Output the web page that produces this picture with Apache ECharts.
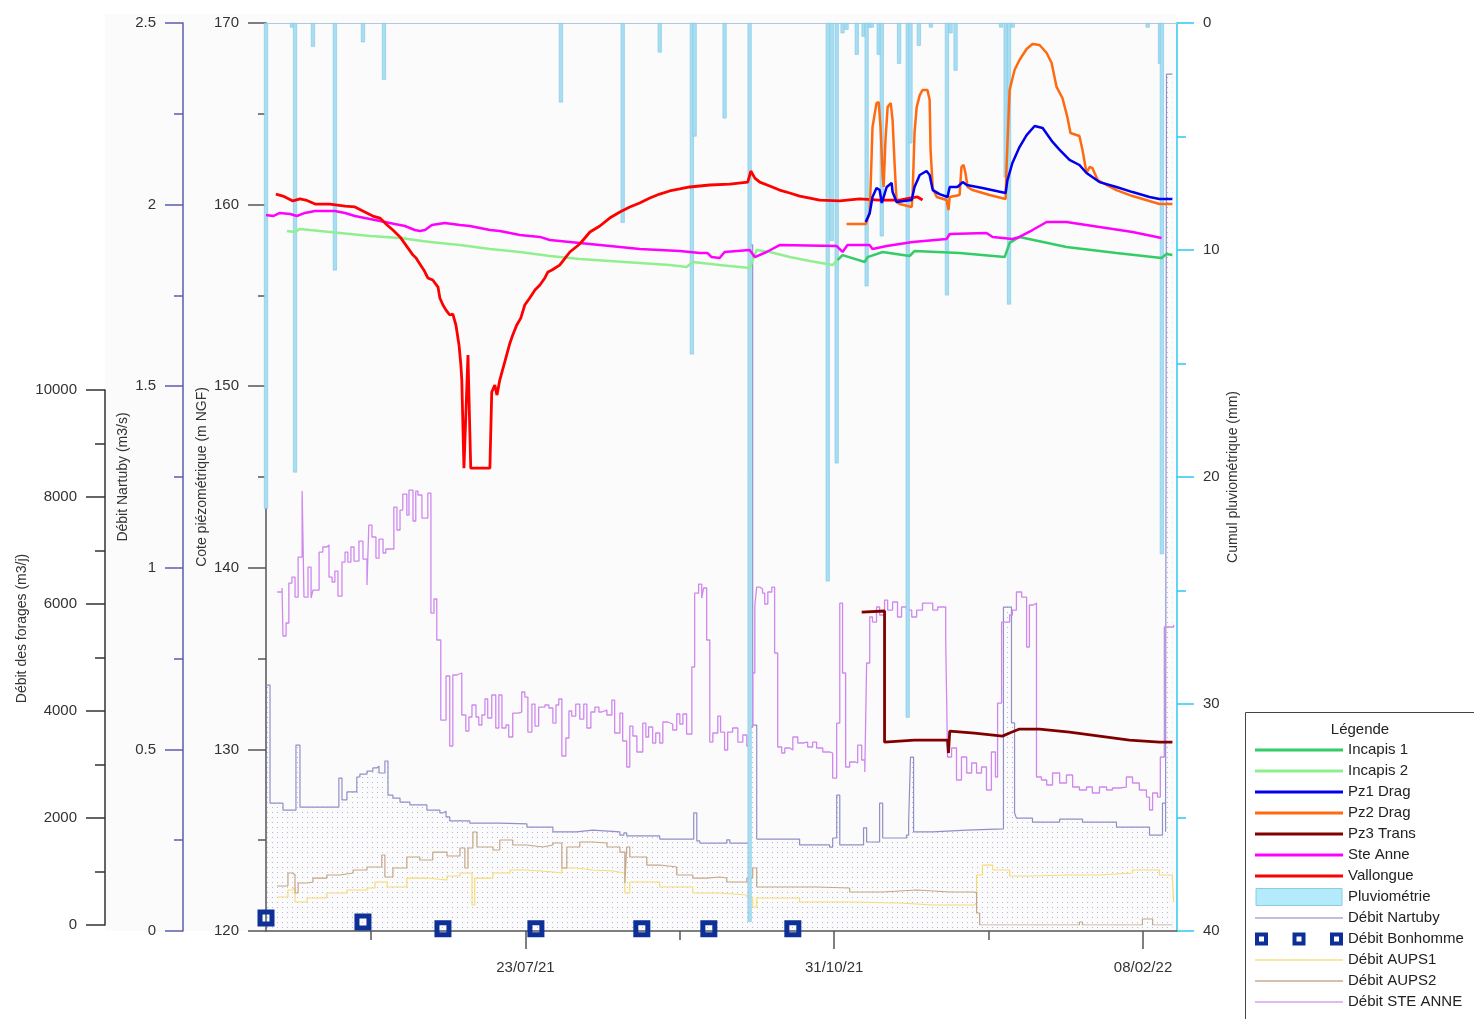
<!DOCTYPE html>
<html>
<head>
<meta charset="utf-8">
<title>Suivi piézométrique</title>
<script src="https://cdn.jsdelivr.net/npm/echarts/dist/echarts.min.js"></script>
<style>
  html, body { margin: 0; padding: 0; background: #fff; }
  #chart { width: 1474px; height: 1019px; }
</style>
</head>
<body>
<div id="chart"></div>
<script>
// x values are days counted from 30/04/21
const startDate = Date.UTC(2021, 3, 30);
const dayMax = 295;
const xLabelDays = [84, 184, 284];          // 23/07/21, 31/10/21, 08/02/22
const xMinorDays = [34, 134, 234];

// Cumul pluviométrique (mm), bars hanging from the top
const pluvio = [
  [0, 21.4], [8.4, 0.2], [9.4, 19.8], [15.2, 1.05], [22.3, 10.9], [31.4, 0.85], [38.2, 2.5],
  [95.5, 3.5], [115.5, 8.8], [127.5, 1.3], [137.9, 14.6], [138.8, 5.0], [148.5, 4.2],
  [156.6, 39.6], [181.9, 24.6], [183.2, 9.6], [184.8, 19.4], [186.7, 0.45], [188, 0.3],
  [191.3, 1.4], [193.5, 0.6], [194.5, 11.6], [195.5, 0.2], [196.2, 0.2], [198.4, 1.4],
  [199.4, 9.4], [205, 1.8], [207.8, 30.6], [208.7, 5.3], [211.4, 1.0], [215.3, 0.2],
  [220.5, 12.0], [221.7, 0.45], [223.3, 2.1], [238.0, 0.2], [239.5, 6.8], [240.6, 12.4],
  [241.8, 0.2], [285.5, 0.2], [289.5, 1.8], [290.1, 23.4]
];

// Cote piézométrique (m NGF)
const vallongue = [
  [3.2, 160.58], [5.5, 160.47], [8.7, 160.2], [11, 160.31], [12.9, 160.25], [15.9, 160.03],
  [20.7, 160.03], [25.6, 159.92], [28.8, 159.87], [32, 159.59], [34.6, 159.37], [36.9, 159.26],
  [39.2, 158.88], [41.1, 158.6], [43.4, 158.22], [47.6, 157.22], [48.6, 157.06], [49.2, 156.89],
  [51.1, 156.4], [52.4, 155.96], [54, 155.85], [55.7, 155.46], [56.3, 154.86], [57.3, 154.47],
  [58.3, 154.19], [59.5, 153.92], [60.5, 153.97], [61.5, 153.37], [62.5, 152.27], [63.1, 151.17],
  [63.4, 150.34], [64.1, 145.49], [65.4, 151.72], [66.3, 145.49], [72.5, 145.49], [73.1, 149.68],
  [74.1, 150.06], [74.8, 149.51], [75.7, 150.34], [77.3, 151.33], [79, 152.38], [79.9, 152.82],
  [81.2, 153.37], [82.5, 153.75], [83.8, 154.47], [85.4, 154.86], [87.1, 155.3], [88.7, 155.57],
  [90.3, 155.96], [91.3, 156.29], [92.6, 156.4], [95.1, 156.67], [97.1, 157.11], [98.4, 157.39],
  [101.6, 157.83], [104.9, 158.49], [108.1, 158.82], [111.3, 159.26], [114.6, 159.59],
  [117.8, 159.87], [121, 160.09], [124.3, 160.36], [127.5, 160.58], [130.7, 160.75], [134, 160.86],
  [137.2, 160.97], [143.7, 161.08], [150.2, 161.13], [156, 161.24], [157, 161.85], [158.3, 161.46],
  [159.9, 161.24], [163.1, 161.02], [166.3, 160.8], [169.6, 160.64], [172.8, 160.47], [176.1, 160.36],
  [179.3, 160.25], [185.8, 160.2], [192.2, 160.31], [198.7, 160.25], [205.2, 160.25], [208.4, 160.36],
  [211, 160.42], [212.6, 160.25]
];
const steAnne = [
  [0, 159.43], [2.3, 159.37], [4.5, 159.54], [7.8, 159.48], [10, 159.37], [12.6, 159.54],
  [15.9, 159.65], [22.3, 159.65], [25.6, 159.54], [28.8, 159.37], [32, 159.26], [35.3, 159.15],
  [38.5, 159.04], [41.7, 158.93], [45, 158.82], [48.2, 158.6], [49.8, 158.55], [51.5, 158.6],
  [53.7, 158.88], [57.9, 158.99], [62.8, 158.88], [66, 158.82], [69.3, 158.71], [72.5, 158.6],
  [75.7, 158.55], [79, 158.44], [82.2, 158.33], [85.4, 158.27], [88.7, 158.22], [91.9, 158.05],
  [95.1, 158], [101.6, 157.88], [108.1, 157.77], [114.6, 157.66], [121, 157.55], [127.5, 157.5],
  [134, 157.44], [140.5, 157.33], [143, 157.33], [144.3, 157.11], [146.9, 157.06], [148.5, 157.39],
  [156.6, 157.5], [158.3, 157.11], [162.1, 157.39], [166.3, 157.77], [184.8, 157.72], [186.7, 157.39],
  [188.3, 157.77], [195.5, 157.77], [196.4, 157.55], [201, 157.72], [209.4, 157.94], [220.4, 158.11],
  [221.4, 158.38], [233.3, 158.44], [235.3, 158.22], [241.7, 158.11], [244, 158.22], [248.2, 158.6],
  [252.8, 159.04], [259.2, 159.04], [269.9, 158.77], [280.6, 158.49], [290, 158.16]
];
const incapis2 = [
  [6.8, 158.55], [9.4, 158.49], [11, 158.66], [14.2, 158.6], [20.7, 158.49], [27.2, 158.38],
  [33.7, 158.27], [43.4, 158.16], [53.1, 157.94], [62.8, 157.77], [72.5, 157.55], [82.2, 157.39],
  [91.9, 157.17], [101.6, 157], [111.3, 156.89], [121, 156.78], [130.7, 156.67], [136.2, 156.56],
  [138.2, 156.84], [146.9, 156.67], [156.6, 156.51], [158.9, 157.5], [163.1, 157.39],
  [169.6, 157.11], [176.1, 156.89], [183.5, 156.67], [185.1, 156.95]
];
const incapis1 = [
  [185.1, 156.95], [186.7, 157.22], [193.9, 156.84], [194.8, 157.11], [199.7, 157.39],
  [208.4, 157.17], [210, 157.44], [224.6, 157.33], [239.2, 157.11], [240.8, 157.89], [244, 158.22],
  [259.2, 157.66], [275.4, 157.33], [290, 157.06], [291.6, 157.28], [293.5, 157.22]
];
const pz1Drag = [
  [194.2, 159.04], [195.5, 159.54], [196.4, 160.42], [197.7, 160.91], [198.7, 160.8], [199.4, 160.09],
  [199.7, 160.25], [201, 160.97], [202.6, 161.19], [202.9, 160.69], [204.2, 160.14], [209.1, 160.25],
  [210, 160.97], [211.7, 161.63], [213.9, 161.85], [214.9, 161.63], [215.9, 160.8], [218.1, 160.58],
  [220.7, 160.42], [221.4, 160.97], [223.9, 160.97], [225.6, 161.24], [226.9, 161.08], [232, 160.91],
  [239.5, 160.64], [240.1, 161.35], [241.7, 162.29], [244, 163.17], [246.3, 163.83], [248.9, 164.33],
  [251.5, 164.22], [254.7, 163.45], [257, 163.01], [260.2, 162.46], [263.4, 162.18], [265.7, 161.74],
  [269.9, 161.24], [275.4, 160.97], [280.6, 160.69], [286.1, 160.42], [289.3, 160.31], [293.5, 160.31]
];
const pz2Drag = [
  [188, 158.93], [194.2, 158.93], [195.5, 159.54], [196.1, 162.62], [196.4, 164.27], [197.7, 165.59],
  [198.4, 165.65], [199, 164.27], [199.7, 161.52], [200, 160.97], [200.6, 163.56], [201.3, 165.37],
  [202.3, 165.59], [202.9, 164.66], [203.6, 162.07], [204.2, 160.14], [205.2, 160.03], [209.1, 159.87],
  [209.4, 160.64], [210, 163.94], [210.7, 165.37], [211.7, 166.03], [212.6, 166.31], [214.2, 166.31],
  [214.9, 165.76], [215.2, 163.01], [215.9, 160.91], [217.2, 160.42], [220.4, 160.25], [221, 159.7],
  [221.4, 160.42], [224.6, 160.53], [225.2, 162.07], [225.9, 162.18], [226.5, 161.74], [227.2, 160.97],
  [228.8, 160.8], [234.3, 160.53], [239.5, 160.31], [239.8, 162.07], [240.8, 166.31], [242.4, 167.41],
  [244, 167.96], [246.3, 168.57], [248.2, 168.84], [250.5, 168.79], [252.8, 168.35], [254.4, 167.8],
  [256, 166.48], [257.9, 165.87], [259.5, 164.82], [260.5, 163.94], [263.4, 163.78], [264.4, 163.01],
  [265.7, 161.74], [266.7, 162.07], [267.6, 162.01], [269.3, 161.35], [275.4, 160.8], [280.6, 160.47],
  [289.3, 160.03], [293.5, 160.03]
];
const pz3Trans = [
  [192.9, 137.56], [200.3, 137.62], [200.3, 130.4], [210, 130.51], [220.7, 130.51], [221, 129.8],
  [221.4, 131.01], [229.4, 130.9], [238.5, 130.73], [240.8, 130.9], [244, 131.12], [250.5, 131.12],
  [260.2, 130.95], [269.9, 130.73], [279.6, 130.51], [289.3, 130.4], [293.5, 130.4]
];

// Débit Nartuby (m3/s)
const nartuby = [
  [0, 0.677], [1.3, 0.352], [5.5, 0.333], [9.7, 0.512], [11, 0.341], [23.6, 0.421], [24.6, 0.361],
  [26.2, 0.383], [29.4, 0.424], [30.4, 0.432], [32.7, 0.44], [34.6, 0.449], [35.9, 0.454],
  [36.6, 0.435], [38.5, 0.468], [39.5, 0.374], [41.1, 0.366], [43.4, 0.355], [46.6, 0.347],
  [52.1, 0.333], [56.3, 0.325], [57.3, 0.33], [58.3, 0.314], [59.5, 0.303], [66, 0.297],
  [75.7, 0.295], [84.5, 0.286], [92.9, 0.273], [100.6, 0.278], [105.8, 0.273], [114.6, 0.264],
  [115.9, 0.27], [116.8, 0.262], [127.5, 0.253], [138.5, 0.325], [139.5, 0.248], [140.5, 0.242],
  [149.2, 0.251], [150.2, 0.242], [156.3, 1.889], [157.6, 0.567], [158.9, 0.253], [167.3, 0.253],
  [172.8, 0.237], [182.5, 0.231], [183.5, 0.256], [184.8, 0.374], [185.8, 0.237], [193.5, 0.284],
  [194.5, 0.245], [198.7, 0.352], [199.7, 0.256], [207.4, 0.264], [208.1, 0.3], [208.7, 0.479],
  [209.7, 0.273], [215.9, 0.278], [226.9, 0.281], [238.8, 0.892], [241.4, 0.573], [242.4, 0.325],
  [243, 0.311], [248.2, 0.3], [257, 0.308], [264.4, 0.3], [275.4, 0.286], [286.1, 0.264],
  [290.3, 0.352], [291.3, 0.273], [291.6, 2.359], [293.5, 2.359]
];
const bonhomme = [
  [0, 0.036], [31.4, 0.025], [57.3, 0.006], [87.4, 0.006], [121.7, 0.006], [143.4, 0.006], [170.6, 0.006]
];

// Débit des forages (m3/j)
const aups1 = [
  [3.6, 523], [7.1, 654], [8.7, 692], [9.4, 430], [13.3, 505], [19.7, 598], [26.2, 654], [32.7, 692],
  [35.3, 804], [39.2, 710], [45.6, 878], [52.1, 841], [58.6, 916], [62.8, 972], [66.7, 374],
  [67.6, 878], [73.5, 972], [79, 1028], [84.5, 991], [92.9, 972], [95.8, 1065], [100.6, 1028],
  [105.8, 1009], [112.3, 972], [116.2, 598], [117.8, 804], [127.5, 710], [138.2, 598], [146.9, 561],
  [155.7, 523], [157.6, 336], [158.9, 505], [172.8, 430], [189, 411], [205.2, 374], [215.9, 374],
  [229.4, 411], [230.1, 935], [232, 1121], [235.3, 1028], [240.8, 916], [248.2, 935], [259.2, 935],
  [269.9, 972], [280.6, 1028], [289.3, 935], [293.5, 897], [293.9, 430]
];
const aups2 = [
  [3.6, 729], [7.1, 972], [8.7, 935], [9.4, 598], [10.4, 785], [13.3, 804], [15.2, 878], [19.7, 935],
  [23.9, 972], [28.2, 1028], [32.7, 1084], [37.5, 1308], [38.5, 897], [41.1, 1065], [45.6, 1271],
  [49.8, 1215], [54, 1364], [58.6, 1290], [62.8, 1439], [64.4, 1065], [65.4, 1439], [67, 1738],
  [68.3, 1458], [73.5, 1402], [75.7, 1589], [79.9, 1495], [84.5, 1458], [89.6, 1495], [92.9, 1533],
  [95.8, 1065], [97.4, 1458], [101.6, 1551], [105.8, 1533], [110.4, 1458], [114.6, 1364],
  [116.2, 785], [116.8, 1458], [117.8, 1271], [123.3, 1121], [127.5, 1084], [133, 935], [138.2, 878],
  [142.7, 897], [146.9, 878], [149.2, 804], [155.7, 878], [157.6, 1065], [158.9, 710], [167.3, 710],
  [178.3, 692], [189, 617], [199.7, 654], [210.7, 617], [221.4, 617], [229.4, 598], [230.1, 224],
  [231.1, 0], [263.4, 56], [264.4, 0], [283.8, 112], [287.1, 0], [293.5, 0]
];
const debitSteAnne = [
  [3.6, 6224], [5.2, 6299], [5.5, 5402], [6.5, 5645], [7.4, 6392], [8.4, 6504], [9.4, 6130],
  [10.4, 6878], [11.7, 8111], [12.3, 6130], [13.6, 6691], [14.6, 6112], [15.2, 6261], [17.2, 6971],
  [18.4, 7065], [19.7, 7102], [20.4, 6504], [21.4, 6411], [22.3, 6616], [23.3, 6149], [24.6, 6784],
  [25.6, 6971], [26.5, 6784], [27.5, 7065], [28.5, 6803], [30.1, 7177], [31.4, 6840], [32.7, 6355],
  [33.3, 7476], [34.3, 7252], [35.6, 6859], [36.6, 7214], [37.9, 6953], [38.8, 7028], [41.4, 7812],
  [42.4, 7383], [43.4, 7756], [44.3, 8055], [45.6, 7663], [46.3, 8130], [47.6, 7551], [48.5, 8111],
  [49.2, 8037], [50.5, 7607], [52.4, 8074], [53.4, 5831], [54.4, 6093], [55.3, 5327], [56.6, 3831],
  [58.3, 4654], [59.5, 3346], [60.5, 4673], [61.8, 4710], [63.4, 3925], [64.7, 3626], [65.7, 3888],
  [66.7, 4112], [68, 3888], [68.9, 3738], [69.9, 3925], [70.9, 4224], [71.8, 3869], [73.1, 4299],
  [74.4, 3682], [75.4, 4299], [76.4, 3682], [77.7, 3738], [78.6, 3514], [79.9, 3962], [81.6, 3981],
  [82.8, 4355], [83.8, 4261], [84.8, 3607], [86.1, 4130], [87.1, 3719], [88.3, 4074], [90.3, 4112],
  [91.6, 4056], [92.9, 3775], [93.9, 4112], [94.8, 4224], [95.8, 3159], [97.1, 3495], [98.1, 4000],
  [99, 3906], [100.3, 4130], [101.6, 3850], [102.9, 4130], [103.9, 3682], [105.2, 3981], [106.5, 4074],
  [107.8, 3981], [108.7, 4018], [110.4, 3925], [112, 4205], [112.9, 3589], [114.6, 3962], [115.5, 3439],
  [116.8, 2953], [117.8, 3719], [118.8, 3533], [120.1, 3234], [122, 3775], [123, 3514], [123.9, 3701],
  [125.2, 3402], [126.2, 3589], [127.5, 3402], [128.5, 3794], [130.1, 3757], [131.7, 3645], [133, 3944],
  [134, 3757], [135, 3944], [136.2, 3570], [137.9, 4822], [138.8, 6205], [140.1, 6373], [141.1, 6112],
  [141.7, 6299], [142.7, 5327], [143.7, 3420], [144.7, 3589], [146.3, 3906], [147.2, 3607], [148.5, 3271],
  [149.5, 3607], [151.1, 3682], [152.8, 3420], [154.4, 3551], [155.7, 3346], [156.6, 3701], [157.6, 4710],
  [158.3, 5981], [158.9, 6317], [159.9, 6280], [160.8, 6205], [161.5, 6000], [162.5, 6224], [163.8, 6317],
  [164.7, 5084], [165.7, 3327], [167, 3215], [168, 3308], [169.6, 3271], [170.6, 3514], [172.2, 3402],
  [173.8, 3420], [175.4, 3327], [177, 3420], [178.3, 3308], [180.3, 3234], [182.5, 3215], [183.5, 2747],
  [184.8, 3775], [185.8, 6018], [186.7, 4710], [187.7, 2953], [189, 3047], [190.9, 3028], [191.6, 3364],
  [192.9, 3084], [193.9, 2860], [194.5, 4897], [195.5, 5757], [196.4, 5663], [197.7, 5944], [198.7, 5794],
  [200.3, 6074], [201.3, 5887], [202.9, 6037], [204.5, 5757], [205.8, 5944], [207.4, 5887], [209.1, 5757],
  [210.7, 5887], [212.6, 6018], [214.2, 6018], [215.9, 5887], [217.5, 5944], [219.1, 5944], [220.1, 5327],
  [220.7, 3140], [222, 3308], [223.6, 2710], [225.2, 3140], [226.9, 2841], [228.5, 3028], [230.1, 2841],
  [231.7, 2953], [233.3, 2523], [234.9, 3234], [236.2, 2766], [236.9, 4149], [238.2, 5663], [240.8, 5794],
  [241.7, 5887], [243, 6224], [244.7, 6130], [246.3, 5196], [247.2, 5981], [248.5, 6018], [249.5, 2766],
  [251.1, 2710], [252.8, 2617], [254.7, 2841], [257, 2654], [259.2, 2804], [261.2, 2579], [263.4, 2523],
  [265.7, 2579], [267.6, 2467], [269.9, 2579], [272.2, 2523], [274.1, 2561], [276.4, 2579], [278.6, 2766],
  [280.6, 2654], [282.8, 2523], [285.1, 2392], [286.1, 2150], [287.1, 2467], [288.7, 2392], [289.6, 3140],
  [290.9, 5570], [293.9, 5607]
];

function dateLabel(d) {
  const dt = new Date(startDate + Math.round(d) * 86400000);
  const p = n => String(n).padStart(2, '0');
  return p(dt.getUTCDate()) + '/' + p(dt.getUTCMonth() + 1) + '/' + String(dt.getUTCFullYear()).slice(2);
}

// dotted fill for the Nartuby area
const dots = document.createElement('canvas');
dots.width = 5; dots.height = 5;
const dctx = dots.getContext('2d');
dctx.fillStyle = 'rgba(120,120,200,0.55)';
dctx.fillRect(2, 2, 1, 1);

const font = 'Liberation Sans, Arial, sans-serif';
const txt = '#333';

const chart = echarts.init(document.getElementById('chart'));

function yAxisBase(color, tickLen, minorLen, margin) {
  return {
    axisLine: { show: true, onZero: false, lineStyle: { color: color, width: 1.5 } },
    axisTick: { show: true, inside: false, length: tickLen, lineStyle: { color: color, width: 1.5 } },
    minorTick: { show: true, splitNumber: 2, length: minorLen, lineStyle: { color: color, width: 1.5 } },
    splitLine: { show: false },
    axisLabel: { fontSize: 15, color: txt, fontFamily: font, margin: margin, formatter: v => String(v) },
    nameLocation: 'middle',
    nameRotate: 90,
    nameMoveOverlap: false,
    nameTextStyle: { fontSize: 14, color: txt, fontFamily: font }
  };
}

const lineIcon = 'path://M0,0H88V3H0Z';
const thinIcon = 'path://M0,0H88V1.4H0Z';

chart.setOption({
  animation: false,
  textStyle: { fontFamily: font },
  graphic: [
    { type: 'rect', z: -10, shape: { x: 105, y: 14, width: 1072, height: 917 }, style: { fill: '#fbfbfb' } },
    { type: 'rect', z: 10, shape: { x: 1245.5, y: 712.5, width: 240, height: 320 }, style: { fill: '#fff', stroke: '#444', lineWidth: 1 } },
    { type: 'text', z: 11, x: 1360, y: 730, style: { text: 'Légende', fontSize: 15, fill: '#222', fontFamily: font, align: 'center', verticalAlign: 'middle' } }
  ],
  grid: [
    { left: 266, right: 297, top: 23, bottom: 88 },
    { left: 266, right: 297, top: 390, bottom: 94 }
  ],
  xAxis: [
    {
      type: 'value', gridIndex: 0, min: 0, max: dayMax, position: 'bottom',
      axisLine: { onZero: false, lineStyle: { color: '#555', width: 1.5 } },
      axisTick: { customValues: xLabelDays, length: 18, lineStyle: { color: '#555', width: 1.5 } },
      axisLabel: { customValues: xLabelDays, formatter: v => dateLabel(v), fontSize: 15, color: txt, margin: 29 },
      splitLine: { show: false }
    },
    {
      type: 'value', gridIndex: 0, min: 0, max: dayMax, position: 'top',
      axisLine: { onZero: false, lineStyle: { color: '#b4c8dc', width: 1 } },
      axisTick: { show: false }, axisLabel: { show: false }, splitLine: { show: false }
    },
    {
      // shorter ticks every 50 days, drawn on the lower grid's axis pushed down to the same line
      type: 'value', gridIndex: 1, min: 0, max: dayMax, position: 'bottom', offset: 6,
      axisLine: { show: false, onZero: false },
      axisTick: { customValues: xMinorDays, length: 9, lineStyle: { color: '#555', width: 1.5 } },
      axisLabel: { show: false }, splitLine: { show: false }
    }
  ],
  yAxis: [
    Object.assign(yAxisBase('#555', 18, 8, 27), {
      type: 'value', gridIndex: 0, position: 'left', offset: 0, min: 120, max: 170, interval: 10,
      name: 'Cote piézométrique (m NGF)', nameGap: 57
    }),
    Object.assign(yAxisBase('#5c5cae', 18, 9, 27), {
      type: 'value', gridIndex: 0, position: 'left', offset: 83, min: 0, max: 2.5, interval: 0.5,
      name: 'Débit Nartuby (m3/s)', nameGap: 53
    }),
    Object.assign(yAxisBase('#2ec8f2', 17, 9, 26), {
      type: 'value', gridIndex: 0, position: 'right', offset: 0, min: 0, max: 40, interval: 10, inverse: true,
      name: 'Cumul pluviométrique (mm)', nameGap: 49
    }),
    Object.assign(yAxisBase('#333', 19, 10, 28), {
      type: 'value', gridIndex: 1, position: 'left', offset: 161, min: 0, max: 10000, interval: 2000,
      name: 'Débit des forages (m3/j)', nameGap: 76,
      nameTextStyle: { fontSize: 14, color: txt, fontFamily: font, padding: [0, 0, 0, 58] }
    })
  ],
  legend: {
    orient: 'vertical', left: 1255, top: 739.5, padding: 0, itemWidth: 88, itemHeight: 17, itemGap: 0,
    selectedMode: false, z: 12,
    textStyle: { fontSize: 15, color: '#222', fontFamily: font, lineHeight: 21 },
    data: [
      { name: 'Incapis 1', icon: lineIcon, itemStyle: { color: '#33cc66' } },
      { name: 'Incapis 2', icon: lineIcon, itemStyle: { color: '#90f090' } },
      { name: 'Pz1 Drag', icon: lineIcon, itemStyle: { color: '#0000ee' } },
      { name: 'Pz2 Drag', icon: lineIcon, itemStyle: { color: '#ff6a10' } },
      { name: 'Pz3 Trans', icon: lineIcon, itemStyle: { color: '#800000' } },
      { name: 'Ste Anne', icon: lineIcon, itemStyle: { color: '#ff00ff' } },
      { name: 'Vallongue', icon: lineIcon, itemStyle: { color: '#ff0000' } },
      { name: 'Pluviométrie', icon: 'path://M0,0H86V17H0Z', itemStyle: { color: '#b3ebfa', borderColor: '#8ccbe6', borderWidth: 1 } },
      { name: 'Débit Nartuby', icon: thinIcon, itemStyle: { color: '#a8a8d4' } },
      { name: 'Débit Bonhomme', icon: 'path://M0,0H13V13H0Z M4,4V9H9V4Z M37.5,0H50.5V13H37.5Z M41.5,4V9H46.5V4Z M75,0H88V13H75Z M79,4V9H84V4Z', itemStyle: { color: '#0c2f98', opacity: 1 } },
      { name: 'Débit AUPS1', icon: thinIcon, itemStyle: { color: '#f6e08a' } },
      { name: 'Débit AUPS2', icon: thinIcon, itemStyle: { color: '#c8aa90' } },
      { name: 'Débit STE ANNE', icon: thinIcon, itemStyle: { color: '#d9a0f0' } }
    ]
  },
  series: [
    {
      name: 'Débit Nartuby', type: 'line', xAxisIndex: 0, yAxisIndex: 1, step: 'end', z: 1,
      data: nartuby, showSymbol: false, symbol: 'none', color: '#9090c8',
      lineStyle: { width: 1.2, color: '#9090c8' },
      areaStyle: { color: { image: dots, repeat: 'repeat' }, opacity: 1 }
    },
    {
      name: 'Débit AUPS1', type: 'line', xAxisIndex: 2, yAxisIndex: 3, step: 'end', z: 2,
      data: aups1, symbol: 'none', color: '#f6dc78', lineStyle: { width: 1.2 }
    },
    {
      name: 'Débit AUPS2', type: 'line', xAxisIndex: 2, yAxisIndex: 3, step: 'end', z: 2,
      data: aups2, symbol: 'none', color: '#c4a688', lineStyle: { width: 1.2 }
    },
    {
      name: 'Débit STE ANNE', type: 'line', xAxisIndex: 2, yAxisIndex: 3, step: 'end', z: 2,
      data: debitSteAnne, symbol: 'none', color: '#cf88ee', lineStyle: { width: 1.3 }
    },
    {
      name: 'Pluviométrie', type: 'bar', xAxisIndex: 0, yAxisIndex: 2, z: 3, clip: false,
      data: pluvio, barWidth: 4, color: '#a8def2',
      itemStyle: { color: '#a8def2', borderColor: '#7ec6e4', borderWidth: 0.6 }
    },
    {
      name: 'Débit Bonhomme', type: 'scatter', xAxisIndex: 0, yAxisIndex: 1, z: 4, clip: false,
      data: bonhomme, symbol: 'path://M0,0H17V17H0Z M5,5V12H12V5Z', symbolSize: 17,
      color: '#0c2f98', itemStyle: { color: '#0c2f98', opacity: 1 }
    },
    { name: 'Incapis 2', type: 'line', yAxisIndex: 0, z: 5, data: incapis2, symbol: 'none', color: '#90f090', lineStyle: { width: 2.5 } },
    { name: 'Incapis 1', type: 'line', yAxisIndex: 0, z: 5, data: incapis1, symbol: 'none', color: '#33cc66', lineStyle: { width: 2.5 } },
    { name: 'Ste Anne', type: 'line', yAxisIndex: 0, z: 5, data: steAnne, symbol: 'none', color: '#ff00ff', lineStyle: { width: 2.5 } },
    { name: 'Vallongue', type: 'line', yAxisIndex: 0, z: 5, data: vallongue, symbol: 'none', color: '#ff0000', lineStyle: { width: 2.8 } },
    { name: 'Pz2 Drag', type: 'line', yAxisIndex: 0, z: 5, data: pz2Drag, symbol: 'none', color: '#ff6a10', lineStyle: { width: 2.5 } },
    { name: 'Pz1 Drag', type: 'line', yAxisIndex: 0, z: 6, data: pz1Drag, symbol: 'none', color: '#0000ee', lineStyle: { width: 2.5 } },
    { name: 'Pz3 Trans', type: 'line', yAxisIndex: 0, z: 6, data: pz3Trans, symbol: 'none', color: '#800000', lineStyle: { width: 2.8 } }
  ]
});
</script>
</body>
</html>
